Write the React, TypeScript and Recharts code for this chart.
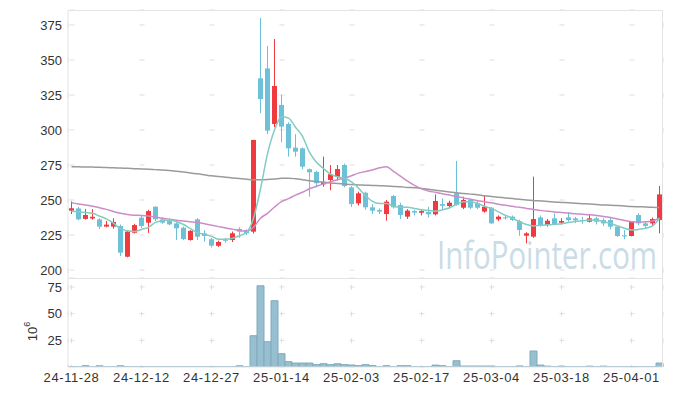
import React from "react";
import { ComposedChart, BarChart, Bar, Line, XAxis, YAxis, CartesianGrid } from "recharts";

// trading days shown on the chart
const dates = [
  "24-11-28", "24-11-29",
  "24-12-02", "24-12-03", "24-12-04", "24-12-05", "24-12-06", "24-12-09", "24-12-10", "24-12-11", "24-12-12", "24-12-13",
  "24-12-16", "24-12-17", "24-12-18", "24-12-19", "24-12-20", "24-12-23", "24-12-24", "24-12-26", "24-12-27", "24-12-30",
  "25-01-02", "25-01-03", "25-01-06", "25-01-07", "25-01-08", "25-01-09", "25-01-10", "25-01-13", "25-01-14", "25-01-15",
  "25-01-16", "25-01-17", "25-01-20", "25-01-21", "25-01-22", "25-01-23", "25-01-24", "25-01-31",
  "25-02-03", "25-02-04", "25-02-05", "25-02-06", "25-02-07", "25-02-10", "25-02-11", "25-02-12", "25-02-13", "25-02-14",
  "25-02-17", "25-02-18", "25-02-19", "25-02-20", "25-02-21", "25-02-24", "25-02-25", "25-02-26", "25-02-27", "25-02-28",
  "25-03-04", "25-03-05", "25-03-06", "25-03-07", "25-03-10", "25-03-11", "25-03-12", "25-03-13", "25-03-14", "25-03-17",
  "25-03-18", "25-03-19", "25-03-20", "25-03-21", "25-03-24", "25-03-25", "25-03-26", "25-03-27", "25-03-28", "25-03-31",
  "25-04-01", "25-04-02", "25-04-03", "25-04-04", "25-04-07",
];

const opens = [
  242.4, 244, 236.5, 236.8, 236.2, 231, 231, 231.4, 209.5, 226.6,
  237.4, 233.8, 245.2, 236.2, 235, 233.3, 230.2, 221.4, 236.2, 226.2,
  222, 217.3, 221.6, 221.4, 229.3, 228.6, 227.4, 336.9, 344, 304.3,
  317.9, 304.3, 287.4, 286.9, 272, 270, 261.2, 264.3, 266.6, 275,
  259, 247.6, 255.2, 244.8, 242.9, 240, 252.9, 246.4, 238.1, 242.1,
  240.9, 241.4, 239.8, 247.1, 245.7, 254.8, 244.5, 250, 247.6, 241.7,
  244.5, 236.2, 237.6, 238.1, 235, 224.5, 223.8, 237.6, 232.1, 236.9,
  233.8, 237.6, 236.9, 235.7, 234.5, 236.9, 235.7, 235.7, 231, 224.8,
  224.3, 239.3, 233.3, 233.3, 235.7,
];
const highs = [
  249, 245, 243.5, 243.5, 237, 235, 237, 232.5, 228, 233,
  239, 243, 245.5, 237.5, 237, 235, 231, 228.5, 237, 228.5,
  223, 221, 223, 227.5, 230.5, 229, 293, 380, 360, 365,
  325, 305.5, 297, 287.5, 272.5, 271, 281, 275, 275, 276,
  260, 256, 256, 247, 244, 250, 253.5, 248, 243.5, 243,
  243, 245.2, 254, 251.2, 249.5, 277.9, 252.4, 251, 250, 253,
  245, 239, 239.5, 239, 236, 227, 266.7, 239, 236.5, 240.5,
  237, 241.5, 238, 238, 239.3, 238, 237, 238, 231.5, 228.5,
  235, 240.5, 234.5, 237.5, 260,
];
const lows = [
  240, 235.5, 236, 236, 229.3, 230.5, 229.5, 210, 209, 226,
  230, 226.5, 235, 233, 232, 221.4, 221.5, 221, 221.4, 220.2,
  216, 216.5, 219.5, 220, 223, 225, 226, 312, 297, 302,
  291.2, 281, 281, 272, 252.4, 259, 259.5, 257, 264, 259,
  245, 246, 243, 240, 240, 235.2, 244, 236.5, 236.5, 239,
  239, 237.4, 239, 242.9, 244, 246, 243.5, 243.5, 243.5, 241,
  233, 235, 236, 235, 224.5, 219, 223, 231, 231, 232,
  232.5, 234.5, 233.5, 233, 234, 232.5, 231.5, 229, 223.5, 222,
  224, 232, 229.5, 232, 226.2,
];
const closes = [
  244.1, 236.2, 239.3, 238, 231, 232.4, 234.3, 212.4, 227.4, 232.1,
  231.4, 242.1, 236.2, 233.8, 232.6, 229.8, 222.1, 228, 223.8, 224.3,
  217.4, 220, 221, 226.2, 227.4, 226.2, 292.9, 322.1, 299.5, 331.4,
  302.4, 286.9, 284.5, 273.8, 269.8, 262, 263, 268.4, 272.1, 260,
  247.1, 254.8, 244.8, 242.4, 241.7, 248.8, 244.8, 239.3, 242.4, 241,
  242.1, 239.8, 249.3, 245.9, 248.1, 246.4, 250, 244.5, 244.5, 245.2,
  233.3, 238.1, 236.9, 235.7, 228.6, 226.2, 236.4, 232.1, 235.2, 232.6,
  235, 235.7, 235.5, 235, 236.9, 234.5, 233.3, 231, 224.3, 224,
  234.5, 233.3, 231.5, 236.4, 254,
];
// volume in millions of shares
const volumes = [
  0.2, 0.2, 1.2, 0.2, 1.1, 0.2, 0.2, 1.1, 0.2, 0.2,
  0.2, 0.2, 0.2, 0.2, 0.2, 0.2, 0.2, 0.2, 0.2, 0.2,
  0.2, 0.2, 0.2, 0.2, 1.1, 0.2, 29.3, 76.1, 23.7, 62.1,
  12.5, 5, 3.7, 3.7, 3.7, 2.2, 3.1, 2.2, 3, 2.2,
  1.9, 1.3, 2.2, 1.3, 0.2, 1.2, 0.2, 1.2, 1.2, 0.2,
  0.2, 0.2, 1.8, 1.2, 0.2, 5.9, 0.9, 0.9, 0.9, 0.9,
  0.9, 0.2, 0.2, 0.2, 1, 0.2, 15, 1.8, 0.8, 0.2,
  0.8, 0.2, 0.2, 0.2, 0.8, 0.2, 0.8, 0.2, 0.2, 0.2,
  0.2, 0.2, 0.2, 0.2, 3.7,
];
const ma5 = [
  242, 241.5, 241, 240.5, 238.5, 236.5, 233.5, 229.5, 228, 227.5,
  229, 230.5, 234, 235.3, 235.7, 234.5, 232.5, 229.5, 226.5, 225.5,
  224, 222, 222, 222.6, 224.5, 226.8, 237, 258, 283, 300,
  309.5, 308.5, 302, 295.5, 284, 277, 272.5, 268.5, 266.5, 265.5,
  263, 258.5, 253, 249, 247.5, 247.5, 245.5, 244.8, 244.8, 244,
  243, 242.5, 242, 243, 244.5, 247, 248.8, 248.8, 247.5, 245.5,
  244, 241.5, 239, 237, 234.5, 232.5, 231.5, 232, 232.3, 232.6,
  233, 234, 234.7, 235.2, 235.7, 235.5, 234.5, 233.3, 231.5, 229.8,
  228.6, 229, 229.8, 231.5, 237,
];
const ma20 = [
  248, 247.2, 246.4, 245.5, 244.5, 243.3, 241.8, 240.5, 239.7, 239.2,
  239, 238.5, 237.8, 237, 236.3, 235.6, 235, 234.5, 234, 233,
  232, 231, 230, 229.2, 228.3, 227.9, 230.5, 237, 240.5, 245,
  248.8, 251, 253.5, 255.5, 258, 259.8, 261.5, 263, 264.5, 265.5,
  267.3, 269.2, 270.3, 271.5, 273, 273.8, 270.5, 267, 263.5, 260.5,
  258, 256.5, 255.5, 254.5, 253.5, 252.4, 251.5, 250.5, 249.5, 248.8,
  248, 247, 246.2, 245.5, 244.8, 244, 243.3, 242.6, 242, 241.5,
  241.1, 240.7, 240.2, 239.8, 239.4, 238.9, 238.3, 237.5, 236.4, 235.3,
  234.5, 234.2, 234.4, 235, 237,
];
const ma120 = [
  273.8, 273.7, 273.6, 273.5, 273.4, 273.2, 273, 272.8, 272.6, 272.4,
  272.2, 272, 271.7, 271.4, 271, 270.5, 270, 269.3, 268.7, 268,
  267.3, 266.8, 266.3, 265.8, 265.3, 264.8, 264.4, 264.4, 264.6, 265,
  265.5, 265.6, 265.2, 264.5, 263.8, 263.2, 262.7, 262.2, 261.8, 261.4,
  261, 260.8, 260.6, 260.4, 260.2, 260, 259.7, 259.4, 259, 258.7,
  258.3, 257.7, 257, 256.4, 255.8, 255.2, 254.7, 254.2, 253.7, 253.1,
  252.5, 252, 251.5, 251, 250.5, 250, 249.6, 249.3, 249, 248.6,
  248.3, 248, 247.7, 247.4, 247.1, 246.8, 246.5, 246.3, 246, 245.7,
  245.4, 245.2, 245, 244.8, 244.6,
];

const priceTicks = [200, 225, 250, 275, 300, 325, 350, 375];
const volumeTicks = [25, 50, 75];
const dateTicks = ["24-11-28", "24-12-12", "24-12-27", "25-01-14", "25-02-03", "25-02-17", "25-03-04", "25-03-18", "25-04-01"];

const rows = dates.map((date, i) => ({
  date,
  open: opens[i],
  high: highs[i],
  low: lows[i],
  close: closes[i],
  range: [lows[i], highs[i]],
  volume: volumes[i],
  ma5: ma5[i],
  ma20: ma20[i],
  ma120: ma120[i],
}));

const UP = "#ef3a40";
const DOWN = "#6cc1d9";
const GRID = "#dedede";
const FRAME = "#e4e4e4";
const FONT = "'Liberation Sans', Arial, sans-serif";

function Candle(props: any) {
  const { x, y, width, height, payload } = props;
  const top = Math.min(y, y + height);
  const h = Math.abs(height);
  const ratio = h / (payload.high - payload.low || 1);
  const cx = x + width / 2;
  const up = payload.close >= payload.open;
  const color = up ? UP : DOWN;
  const bodyTop = top + (payload.high - Math.max(payload.open, payload.close)) * ratio;
  const bodyH = Math.max(1, Math.abs(payload.close - payload.open) * ratio);
  return (
    <g>
      <line x1={cx} x2={cx} y1={top} y2={top + h} stroke={color} strokeWidth={1} />
      <rect x={cx - 2.5} y={bodyTop} width={5} height={bodyH} fill={color} />
    </g>
  );
}

// small "+" marks at grid crossings, made from dashed grid lines
const crossLine = (dash: string, offset: number) => (p: any) => (
  <line key={p.key} x1={p.x1} y1={p.y1} x2={p.x2} y2={p.y2} stroke={GRID} strokeWidth={1} strokeDasharray={dash} strokeDashoffset={offset} />
);

function VolumeLabel(props: any) {
  const vb = props.viewBox || {};
  const cx = vb.x + 32;
  const cy = vb.y + vb.height / 2 + 9;
  return (
    <text x={cx} y={cy} transform={`rotate(-90 ${cx} ${cy})`} textAnchor="middle" fill="#333" fontSize={13} fontFamily={FONT} dominantBaseline="central">
      10<tspan fontSize={9} dy={-5}>6</tspan>
    </text>
  );
}

const tickStyle = { fill: "#333", fontSize: 13, fontFamily: FONT };

export default function App() {
  return (
    <div style={{ position: "absolute", left: 0, top: 0, width: 673, height: 396, background: "#fff", overflow: "hidden" }}>
      <svg width={673} height={396} style={{ position: "absolute", left: 0, top: 0 }}>
        <text x={437} y={269} fontSize={38} fill="#cadce7" fontFamily="'Open Sans', sans-serif" textLength={220} lengthAdjust="spacingAndGlyphs">
          InfoPointer.com
        </text>
      </svg>
      <div style={{ position: "absolute", left: 0, top: 0 }}>
        <ComposedChart width={673} height={278} data={rows} margin={{ top: 10, right: 10, bottom: 0, left: 0 }}>
          <CartesianGrid
            vertical={crossLine("5 30", 22.2)}
            horizontal={crossLine("5 65", 68.5)}
          />
          <XAxis dataKey="date" ticks={dateTicks} interval={0} height={0} tick={false} axisLine={false} tickLine={false} />
          <YAxis
            domain={[194.3, 385.7]}
            ticks={priceTicks}
            interval={0}
            allowDataOverflow
            width={68}
            tick={tickStyle}
            tickSize={0}
            tickMargin={6}
            axisLine={{ stroke: FRAME }}
          />
          <Bar dataKey="range" shape={<Candle />} isAnimationActive={false} barSize={5} />
          <Line type="monotone" dataKey="ma120" stroke="#9a9a9a" strokeWidth={1.5} dot={false} isAnimationActive={false} />
          <Line type="monotone" dataKey="ma20" stroke="#cc8cc8" strokeWidth={1.5} dot={false} isAnimationActive={false} />
          <Line type="monotone" dataKey="ma5" stroke="#82ccc2" strokeWidth={1.5} dot={false} isAnimationActive={false} />
        </ComposedChart>
      </div>
      <div style={{ position: "absolute", left: 0, top: 278 }}>
        <BarChart width={673} height={118} data={rows} margin={{ top: 0, right: 10, bottom: 0, left: 0 }} barCategoryGap={0}>
          <CartesianGrid
            vertical={crossLine("5 21.7", 19.9)}
            horizontal={crossLine("5 65", 68.5)}
          />
          <XAxis
            dataKey="date"
            ticks={dateTicks}
            interval={0}
            height={29}
            tick={{ ...tickStyle, letterSpacing: 0.6 }}
            tickSize={0}
            tickMargin={6}
            axisLine={{ stroke: FRAME }}
          />
          <YAxis
            domain={[0, 83.4]}
            ticks={volumeTicks}
            interval={0}
            allowDataOverflow
            width={68}
            tick={tickStyle}
            tickSize={0}
            tickMargin={6}
            axisLine={{ stroke: FRAME }}
            label={<VolumeLabel />}
          />
          <Bar dataKey="volume" fill="#98bfd0" stroke="#7eaabf" strokeWidth={1} isAnimationActive={false} />
        </BarChart>
      </div>
      <div style={{ position: "absolute", left: 68, top: 10, width: 595, height: 357, borderTop: `1px solid ${FRAME}`, borderRight: `1px solid ${FRAME}`, boxSizing: "border-box", pointerEvents: "none" }} />
      <div style={{ position: "absolute", left: 68, top: 278, width: 595, height: 0, borderTop: `1px solid ${FRAME}`, pointerEvents: "none" }} />
    </div>
  );
}
